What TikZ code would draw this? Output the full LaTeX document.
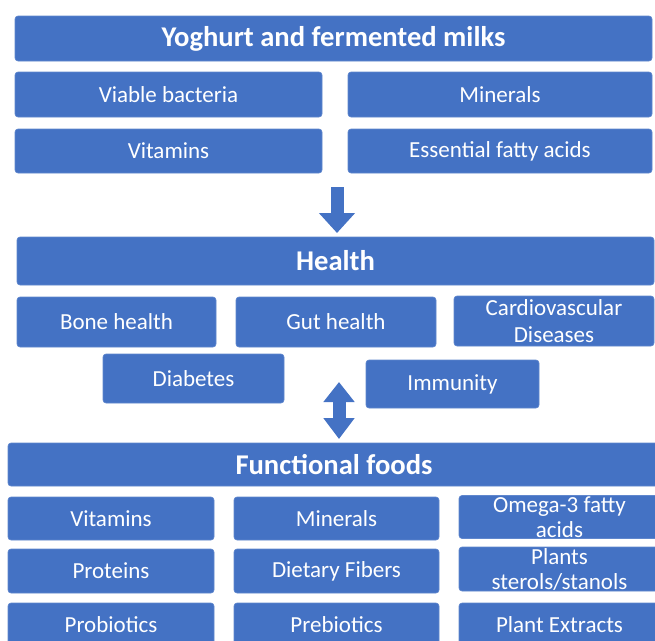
\documentclass[tikz,border=0pt]{standalone}
\usepackage{fontspec}
\setmainfont{Carlito}
\usetikzlibrary{arrows.meta}
\definecolor{boxblue}{HTML}{4472C4}
\tikzset{
  box/.style={rectangle, rounded corners=3pt, fill=boxblue, draw=boxblue!85!white, line width=0.6pt,
    text=white, inner sep=0pt, align=center, font=\fontsize{23}{26}\selectfont},
  headbox/.style={box, font=\bfseries\fontsize{28.6}{32}\selectfont},
  blockarrow/.style={draw=boxblue, line width=13pt},
}
\begin{document}
\begin{tikzpicture}[x=1pt, y=-1pt]
\useasboundingbox (0,0) rectangle (655,640);
\clip (0,0) rectangle (655,640);
% top group
\node[headbox, minimum width=637pt, minimum height=45pt] (title) at (333.5,38.5) {Yoghurt and fermented milks};
\node[box, minimum width=307pt, minimum height=45pt] (viable) at (168.5,94.5) {Viable bacteria};
\node[box, minimum width=304pt, minimum height=45pt] (minA) at (500,94.5) {Minerals};
\node[box, minimum width=307pt, minimum height=44pt] (vitA) at (168.5,151) {Vitamins};
\node[box, minimum width=304pt, minimum height=44pt] (efa) at (500,151) {Essential fatty acids};
% health group
\node[headbox, minimum width=637pt, minimum height=48pt] (health) at (335.5,261) {Health};
\node[box, minimum width=199pt, minimum height=50pt] (bone) at (116.5,322) {Bone health};
\node[box, minimum width=200pt, minimum height=50pt] (gut) at (336,322) {Gut health};
\node[box, minimum width=200pt, minimum height=50pt, font=\fontsize{23}{27}\selectfont] (cardio) at (554,321) {Cardiovascular\\Diseases};
\node[box, minimum width=181pt, minimum height=49pt] (diab) at (193.5,378.5) {Diabetes};
\node[box, minimum width=173pt, minimum height=48pt] (immun) at (452.5,384) {Immunity};
% functional foods group
\node[headbox, minimum width=652pt, minimum height=43pt] (ff) at (334,464.5) {Functional foods};
\node[box, minimum width=206pt, minimum height=43pt] (vitB) at (111,518.5) {Vitamins};
\node[box, minimum width=205pt, minimum height=43pt] (minB) at (336.5,518.5) {Minerals};
\node[box, minimum width=201pt, minimum height=43pt, font=\fontsize{23}{25}\selectfont] (omega) at (559.5,517) {Omega-3 fatty\\acids};
\node[box, minimum width=206pt, minimum height=44pt] (prot) at (111,571) {Proteins};
\node[box, minimum width=205pt, minimum height=44pt] (fib) at (336.5,571) {Dietary Fibers};
\node[box, minimum width=201pt, minimum height=44pt, font=\fontsize{23}{25}\selectfont] (sterol) at (559.5,569) {Plants\\sterols/stanols};
\node[box, minimum width=206pt, minimum height=43pt] (probio) at (111,624.5) {Probiotics};
\node[box, minimum width=205pt, minimum height=43pt] (prebio) at (336.5,624.5) {Prebiotics};
\node[box, minimum width=201pt, minimum height=43pt] (plantex) at (559.5,624.5) {Plant Extracts};
% arrows
\coordinate (a1s) at (337,187);
\coordinate (a1e) at (337,233);
\coordinate (a2s) at (339,382);
\coordinate (a2e) at (339,439);
\draw[blockarrow, -{Triangle[width=35pt,length=20pt]}] (a1s) -- (a1e);
\draw[blockarrow, {Triangle[width=30pt,length=20pt]}-{Triangle[width=30pt,length=21pt]}] (a2s) -- (a2e);
\end{tikzpicture}
\end{document}
